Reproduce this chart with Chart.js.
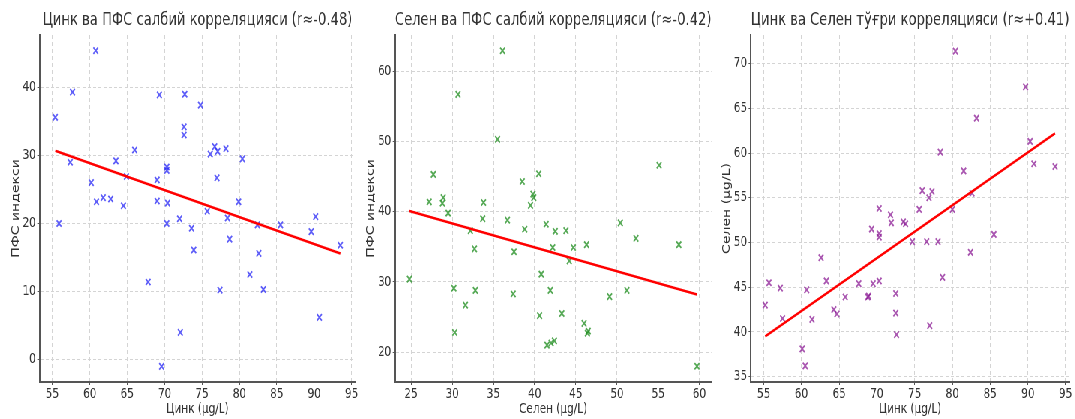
<!DOCTYPE html>
<html>
<head>
<meta charset="utf-8">
<script src="https://cdn.jsdelivr.net/npm/chart.js@4"></script>
<style>
  html, body { margin: 0; padding: 0; background: #fff; overflow: hidden; }
  /* the original figure is horizontally squeezed, so the charts are laid out wider and scaled */
  #wrap { position: relative; width: 1433px; height: 419px; transform: scaleX(0.75); transform-origin: 0 0; }
  #wrap canvas { position: absolute; top: 0; }
</style>
</head>
<body>
<div id="wrap">
  <canvas id="zincPfs" width="480" height="419" style="left:0px"></canvas>
  <canvas id="selenPfs" width="475" height="419" style="left:480px"></canvas>
  <canvas id="zincSelen" width="478" height="419" style="left:955px"></canvas>
</div>
<script>
// panel 1: zinc vs PFS
const zinc1 = [60.8, 57.7, 55.4, 69.3, 72.7, 74.8, 72.6, 72.6, 66.0, 57.4, 63.5, 64.9, 60.2, 69.0, 70.3, 70.3, 76.1, 76.7, 77.1, 78.2,
               80.4, 77.0, 60.9, 61.8, 62.8, 64.5, 69.0, 70.4, 79.9, 75.7, 55.9, 70.3, 72.0, 73.6, 73.9, 78.4, 78.7, 82.4, 82.6, 81.4,
               83.2, 77.4, 67.8, 72.1, 69.6, 85.5, 89.6, 90.2, 90.7, 93.5];
const pfs1 = [45.4, 39.3, 35.6, 38.9, 39.0, 37.4, 34.2, 33.0, 30.8, 29.0, 29.2, 26.9, 26.0, 26.4, 28.3, 27.8, 30.2, 31.3, 30.6, 31.0,
              29.5, 26.7, 23.2, 23.8, 23.6, 22.6, 23.3, 23.0, 23.2, 21.8, 20.0, 20.0, 20.7, 19.3, 16.1, 20.8, 17.7, 19.8, 15.6, 12.5,
              10.3, 10.2, 11.4, 4.0, -1.0, 19.8, 18.8, 21.0, 6.2, 16.8];
const fitX1 = [55.4, 93.5];
const fitY1 = [30.7, 15.6];

// panel 2: selenium vs PFS
const selen2 = [36.1, 30.7, 35.5, 55.1, 27.7, 40.5, 38.5, 27.2, 28.9, 28.8, 33.8, 39.8, 39.9, 39.5, 29.5, 33.7, 36.7, 32.2, 38.8, 41.4,
                42.5, 43.8, 32.7, 37.5, 42.2, 44.7, 46.3, 44.2, 50.4, 52.3, 57.5, 24.8, 30.2, 32.8, 37.4, 40.8, 41.9, 31.6, 40.6, 43.3,
                49.1, 51.2, 30.3, 41.5, 42.0, 42.4, 46.0, 46.4, 46.5, 59.7];
const pfs2 = [62.9, 56.7, 50.3, 46.6, 45.3, 45.4, 44.3, 41.4, 42.0, 41.2, 41.3, 42.5, 42.0, 40.9, 39.8, 39.0, 38.8, 37.3, 37.5, 38.2,
              37.2, 37.3, 34.7, 34.3, 34.9, 34.9, 35.3, 33.0, 38.4, 36.2, 35.3, 30.4, 29.1, 28.8, 28.3, 31.1, 28.8, 26.7, 25.2, 25.5,
              27.9, 28.8, 22.8, 21.0, 21.3, 21.6, 24.1, 22.7, 23.0, 18.0];
const fitX2 = [24.8, 59.7];
const fitY2 = [40.1, 28.2];

// panel 3: zinc vs selenium
const zinc3 = [80.4, 89.7, 83.2, 78.4, 90.3, 90.8, 93.6, 81.5, 82.6, 76.0, 77.3, 76.9, 70.3, 75.6, 80.0, 71.8, 71.9, 73.5, 73.8, 69.3,
               70.3, 70.3, 74.7, 76.6, 78.1, 85.5, 82.4, 78.7, 62.6, 63.3, 55.7, 57.2, 60.7, 67.6, 69.5, 70.3, 65.8, 68.8, 68.9, 72.5,
               55.2, 64.3, 64.7, 72.5, 61.4, 57.5, 72.6, 77.0, 60.1, 60.5];
const selen3 = [71.4, 67.4, 63.9, 60.1, 61.3, 58.8, 58.5, 58.0, 55.5, 55.8, 55.7, 55.0, 53.8, 53.7, 53.7, 53.1, 52.2, 52.3, 52.1, 51.5,
                51.0, 50.6, 50.1, 50.1, 50.1, 50.9, 48.9, 46.1, 48.3, 45.7, 45.5, 44.9, 44.7, 45.4, 45.4, 45.7, 43.9, 43.9, 44.0, 44.3,
                43.0, 42.5, 42.0, 42.1, 41.4, 41.5, 39.7, 40.7, 38.1, 36.2];
const fitX3 = [55.2, 93.6];
const fitY3 = [39.5, 62.2];

const titles = ['Цинк ва ПФС салбий корреляцияси (r≈-0.48)',
                'Селен ва ПФС салбий корреляцияси (r≈-0.42)',
                'Цинк ва Селен тўғри корреляцияси (r≈+0.41)'];
const xLabels = ['Цинк (μg/L)', 'Селен (μg/L)', 'Цинк (μg/L)'];
const yLabels = ['ПФС индекси', 'ПФС индекси', 'Селен (μg/L)'];

const textColor = '#333333';
const fontFamily = '"DejaVu Sans", sans-serif';

function pairs(xs, ys) {
  return xs.map((x, i) => ({x: x, y: ys[i]}));
}

function makeChart(id, p) {
  const axisBase = {
    type: 'linear',
    border: {display: true, color: '#555555', width: 2, dash: [4, 3]},
    grid: {color: '#d4d4d4', lineWidth: 1, drawTicks: true, tickLength: 3, tickColor: '#555555', tickBorderDash: []},
  };
  new Chart(document.getElementById(id), {
    type: 'scatter',
    data: {
      datasets: [{
        data: pairs(p.fitX, p.fitY),
        showLine: true,
        borderColor: '#ff0000',
        borderWidth: 2.6,
        pointRadius: 0,
        fill: false
      }, {
        data: pairs(p.xs, p.ys),
        pointStyle: 'crossRot',
        pointRadius: 4.5,
        pointBorderWidth: 1.8,
        borderColor: p.color,
        backgroundColor: p.color
      }]
    },
    options: {
      responsive: false,
      animation: false,
      layout: {padding: {left: 0, right: p.padRight, top: 0, bottom: 0}},
      plugins: {
        legend: {display: false},
        tooltip: {enabled: false},
        title: {
          display: true,
          text: p.title,
          fullSize: false,
          color: textColor,
          font: {family: fontFamily, size: 17.5, weight: 'normal'},
          padding: {top: 10, bottom: 4}
        }
      },
      scales: {
        x: Object.assign({}, axisBase, {
          min: p.xMin, max: p.xMax,
          ticks: {stepSize: 5, includeBounds: false, color: textColor, padding: 1,
                  font: {family: fontFamily, size: 14}},
          title: {display: true, text: p.xLabel, color: textColor, padding: {top: 0, bottom: 1},
                  font: {family: fontFamily, size: 14}},
          afterFit: (scale) => { scale.height = 37; }
        }),
        y: Object.assign({}, axisBase, {
          min: p.yMin, max: p.yMax,
          ticks: {stepSize: p.yStep, includeBounds: false, color: textColor, padding: 2,
                  font: {family: fontFamily, size: 14}},
          title: {display: true, text: p.yLabel, color: textColor, padding: {top: p.yTitlePad, bottom: 0},
                  font: {family: fontFamily, size: 14}},
          afterFit: (scale) => { scale.width = p.yWidth; }
        })
      }
    }
  });
}

makeChart('zincPfs', {
  xs: zinc1, ys: pfs1, fitX: fitX1, fitY: fitY1, color: 'rgba(40, 40, 245, 0.75)',
  title: titles[0], xLabel: xLabels[0], yLabel: yLabels[0],
  xMin: 53.3, xMax: 95.5, yMin: -3.3, yMax: 47.7, yStep: 10,
  yWidth: 52.7, yTitlePad: 12.6, padRight: 1
});
makeChart('selenPfs', {
  xs: selen2, ys: pfs2, fitX: fitX2, fitY: fitY2, color: 'rgba(30, 140, 30, 0.75)',
  title: titles[1], xLabel: xLabels[1], yLabel: yLabels[1],
  xMin: 23.05, xMax: 61.45, yMin: 15.75, yMax: 65.15, yStep: 10,
  yWidth: 46.7, yTitlePad: 6.3, padRight: 3
});
makeChart('zincSelen', {
  xs: zinc3, ys: selen3, fitX: fitX3, fitY: fitY3, color: 'rgba(140, 30, 150, 0.75)',
  title: titles[2], xLabel: xLabels[2], yLabel: yLabels[2],
  xMin: 53.3, xMax: 95.5, yMin: 34.4, yMax: 73.2, yStep: 5,
  yWidth: 46.3, yTitlePad: 5.6, padRight: 7
});
</script>
</body>
</html>
